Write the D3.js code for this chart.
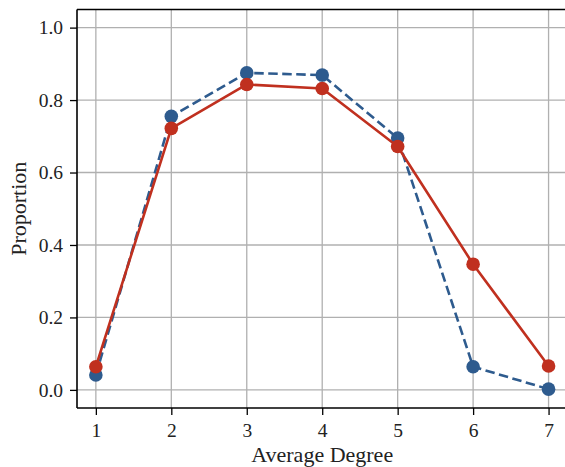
<!DOCTYPE html>
<html>
<head>
<meta charset="utf-8">
<script src="https://cdn.jsdelivr.net/npm/d3@7"></script>
<style>
  html, body { margin: 0; padding: 0; background: #fff; }
  svg { display: block; }
  text { font-family: "Liberation Serif", "DejaVu Serif", serif; fill: #222; }
</style>
</head>
<body>
<div id="chart"></div>
<script>
// Average degree values on the x axis
const degrees = [1, 2, 3, 4, 5, 6, 7];
// Proportion for the dashed (blue) series
const seriesBlue = [0.041, 0.755, 0.875, 0.869, 0.695, 0.064, 0.002];
// Proportion for the solid (red) series
const seriesRed = [0.064, 0.722, 0.843, 0.832, 0.672, 0.347, 0.066];
// Tick values
const xTicks = [1, 2, 3, 4, 5, 6, 7];
const yTicks = [0.0, 0.2, 0.4, 0.6, 0.8, 1.0];

const width = 565, height = 467;
const margin = { top: 9.5, left: 77, bottom: 408 };
const FONT = "'Liberation Serif', 'DejaVu Serif', serif";

const svg = d3.select("#chart").append("svg")
  .attr("width", width).attr("height", height);

const x = d3.scaleLinear().domain([0.75, 7.25]).range([margin.left, margin.left + 6.5 * 75.45]);
const y = d3.scaleLinear().domain([-0.05, 1.05]).range([margin.bottom, margin.top]);

// grid
const grid = svg.append("g");
grid.selectAll("line.gx").data(xTicks).join("line")
  .attr("x1", d => x(d)).attr("x2", d => x(d))
  .attr("y1", y(-0.05)).attr("y2", y(1.05))
  .attr("stroke", "#b0b0b0").attr("stroke-width", 1.3);
grid.selectAll("line.gy").data(yTicks).join("line")
  .attr("x1", x(0.75)).attr("x2", x(7.25))
  .attr("y1", d => y(d)).attr("y2", d => y(d))
  .attr("stroke", "#b0b0b0").attr("stroke-width", 1.3);

// series
const line = d3.line().x((d, i) => x(degrees[i])).y(d => y(d));

function drawSeries(values, color, dash) {
  const g = svg.append("g");
  g.append("path").datum(values)
    .attr("d", line).attr("fill", "none")
    .attr("stroke", color).attr("stroke-width", 2.6)
    .attr("stroke-dasharray", dash)
    .attr("stroke-linejoin", "round");
  g.selectAll("circle").data(values).join("circle")
    .attr("cx", (d, i) => x(degrees[i])).attr("cy", d => y(d))
    .attr("r", 6.8).attr("fill", color);
}
drawSeries(seriesBlue, "#2e5b8e", "9.5,4.5");
drawSeries(seriesRed, "#c0301f", null);

// axes
const xAxis = d3.axisBottom(x).tickValues(xTicks).tickFormat(d3.format("d"))
  .tickSize(7).tickPadding(8);
const yAxis = d3.axisLeft(y).tickValues(yTicks).tickFormat(d3.format(".1f"))
  .tickSize(7).tickPadding(7);

const gx = svg.append("g").attr("transform", `translate(0,${margin.bottom})`).call(xAxis);
const gy = svg.append("g").attr("transform", `translate(${margin.left},0)`).call(yAxis);
[gx, gy].forEach(g => {
  g.attr("font-family", FONT).attr("font-size", 19.5);
  g.select(".domain").attr("stroke", "#000").attr("stroke-width", 1.6);
  g.selectAll(".tick line").attr("stroke", "#000").attr("stroke-width", 1.3);
  g.selectAll(".tick text").attr("fill", "#222");
});
gx.select(".domain").attr("d", `M${x(0.75)},0H${x(7.25)}`);
gy.select(".domain").attr("d", `M0,${y(-0.05)}V${y(1.05)}`);

// top spine
svg.append("line")
  .attr("x1", x(0.75)).attr("x2", x(7.25))
  .attr("y1", y(1.05)).attr("y2", y(1.05))
  .attr("stroke", "#000").attr("stroke-width", 1.6);

// axis titles
svg.append("text")
  .attr("x", (x(1) + x(7)) / 2).attr("y", 462)
  .attr("text-anchor", "middle").attr("font-size", 22)
  .text("Average Degree");
svg.append("text")
  .attr("transform", `translate(26,${(y(-0.05) + y(1.05)) / 2}) rotate(-90)`)
  .attr("text-anchor", "middle").attr("font-size", 22)
  .text("Proportion");
</script>
</body>
</html>
